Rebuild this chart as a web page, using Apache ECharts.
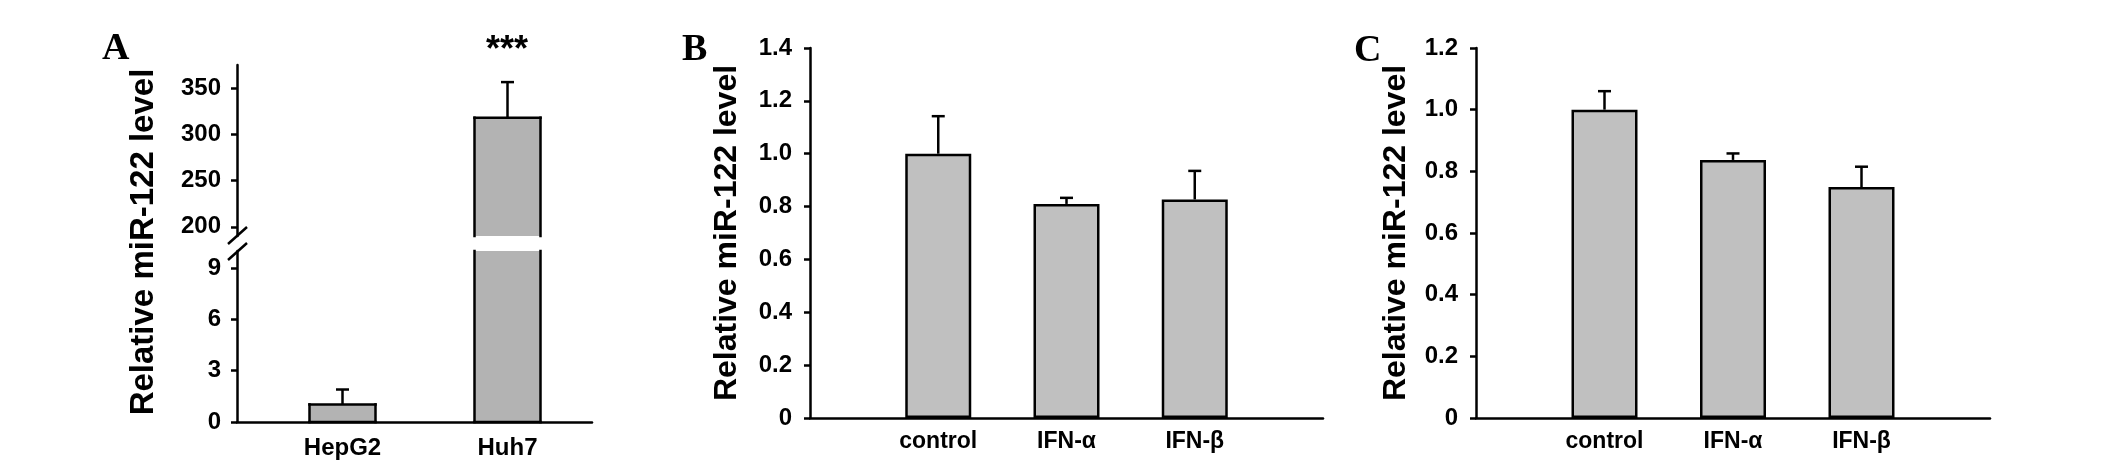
<!DOCTYPE html>
<html lang="en">
<head>
	<meta charset="UTF-8">
	<title>miR-122 levels</title>
	<style>
		html, body { margin: 0; padding: 0; background: #fff; }
		#main { width: 2126px; height: 468px; }
	</style>
</head>
<body>
	<div id="main"></div>
	<script src="https://cdn.jsdelivr.net/npm/echarts@6/dist/echarts.min.js"></script>
	<script>
		// panel A: cell lines (broken y axis)
		var catsA = ['HepG2', 'Huh7'];
		var meanA = [1.03, 318];
		var errA = [0.87, 38.5];
		var ticksAUpper = [200, 250, 300, 350];
		var ticksALower = [0, 3, 6, 9];

		// panels B and C: interferon treatment
		var catsB = ['control', 'IFN-α', 'IFN-β'];
		var meanB = [1.0, 0.81, 0.827];
		var errB = [0.142, 0.023, 0.108];
		var meanC = [1.0, 0.837, 0.749];
		var errC = [0.06, 0.021, 0.066];

		var yTitle = 'Relative miR-122 level';

		var SANS = '"Liberation Sans", Arial, sans-serif';
		var SERIF = '"Liberation Serif", "Times New Roman", serif';
		var LW = 2.5;

		var chart = echarts.init(document.getElementById('main'));

		// A upper segment range and lower segment range
		var upMin = 190, upMax = 375, lowMax = 10;

		function padded(arr) {
			return [''].concat(arr, ['']);
		}
		function paddedVals(arr) {
			return ['-'].concat(arr, ['-']);
		}
		function errData(means, errs, shift, keep) {
			var out = [];
			for (var i = 0; i < means.length; i++) {
				if (!keep || keep(means[i], errs[i])) out.push([i + shift, means[i], errs[i]]);
			}
			return out;
		}

		function renderErr(params, api) {
			var x = api.value(0), m = api.value(1), e = api.value(2);
			var p0 = api.coord([x, m]);
			var p1 = api.coord([x, m + e]);
			var st = { stroke: '#000', lineWidth: LW };
			return {
				type: 'group',
				children: [
					{ type: 'line', shape: { x1: p0[0], y1: p0[1], x2: p1[0], y2: p1[1] }, style: st },
					{ type: 'line', shape: { x1: p1[0] - 6.5, y1: p1[1], x2: p1[0] + 6.5, y2: p1[1] }, style: st }
				]
			};
		}

		// bars of panel A: cut at the axis break without an edge line there
		function renderBarA(params, api) {
			var x = api.value(0), m = api.value(1);
			var cs = params.coordSys;
			var w = 66;
			var c0 = api.coord([x, 0]), c1 = api.coord([x, m]);
			var top = Math.max(c1[1], cs.y), bot = Math.min(c0[1], cs.y + cs.height);
			if (top >= bot) return;
			var l = c0[0] - w / 2, r = c0[0] + w / 2;
			var st = { stroke: '#000', lineWidth: LW, lineCap: 'square' };
			var kids = [
				{ type: 'rect', shape: { x: l, y: top, width: w, height: bot - top }, style: { fill: '#b3b3b3' } },
				{ type: 'line', shape: { x1: l, y1: top, x2: l, y2: bot }, style: st },
				{ type: 'line', shape: { x1: r, y1: top, x2: r, y2: bot }, style: st }
			];
			if (c1[1] >= cs.y) kids.push({ type: 'line', shape: { x1: l, y1: top, x2: r, y2: top }, style: st });
			if (c0[1] <= cs.y + cs.height) kids.push({ type: 'line', shape: { x1: l, y1: bot, x2: r, y2: bot }, style: st });
			return { type: 'group', children: kids };
		}

		var yLabel = { color: '#000', fontSize: 24, fontWeight: 'bold', fontFamily: SANS, margin: 16 };
		var lineStyle = { lineStyle: { color: '#000', width: LW } };
		var tickStyle = { show: true, length: 6, lineStyle: { color: '#000', width: LW } };

		function barSeries(xi, data, color) {
			return {
				type: 'bar', xAxisIndex: xi, yAxisIndex: xi,
				data: data, barWidth: 66, clip: true,
				itemStyle: { color: color, borderColor: '#000', borderWidth: LW }
			};
		}
		function barASeries(xi, data) {
			return {
				type: 'custom', xAxisIndex: xi, yAxisIndex: xi, z: 2,
				data: data, renderItem: renderBarA
			};
		}
		function errSeries(xi, data) {
			return {
				type: 'custom', xAxisIndex: xi, yAxisIndex: xi, z: 3,
				data: data, renderItem: renderErr
			};
		}

		var fmt1 = function (v) { return v === 0 ? '0' : v.toFixed(1); };

		var option = {
			backgroundColor: '#fff',
			animation: false,
			grid: [
				{ left: 260, top: 65, width: 330, height: 171 },
				{ left: 260, top: 251, width: 330, height: 171 },
				{ left: 237, top: 251, width: 355, height: 171 },
				{ left: 810, top: 48, width: 513, height: 370 },
				{ left: 1476, top: 48, width: 514, height: 370 }
			],
			xAxis: [
				{ gridIndex: 0, type: 'category', data: catsA, show: false },
				{
					gridIndex: 1, type: 'category', data: catsA,
					axisLine: { show: false }, axisTick: { show: false },
					axisLabel: { color: '#000', fontSize: 24, fontWeight: 'bold', fontFamily: SANS, margin: 14 }
				},
				{
					gridIndex: 2, type: 'value', min: 0, max: 1,
					axisLine: lineStyle, axisTick: { show: false }, axisLabel: { show: false }, splitLine: { show: false }
				},
				{
					gridIndex: 3, type: 'category', data: padded(catsB), boundaryGap: false,
					axisLine: lineStyle, axisTick: { show: false },
					axisLabel: { color: '#000', fontSize: 23, fontWeight: 'bold', fontFamily: SANS, margin: 12 }
				},
				{
					gridIndex: 4, type: 'category', data: padded(catsB), boundaryGap: false,
					axisLine: lineStyle, axisTick: { show: false },
					axisLabel: { color: '#000', fontSize: 23, fontWeight: 'bold', fontFamily: SANS, margin: 12 }
				}
			],
			yAxis: [
				{
					gridIndex: 0, type: 'value', min: upMin, max: upMax, offset: 23,
					axisLine: { show: true, lineStyle: lineStyle.lineStyle },
					axisTick: { show: true, length: 6, lineStyle: tickStyle.lineStyle, customValues: ticksAUpper },
					axisLabel: Object.assign({ customValues: ticksAUpper }, yLabel),
					splitLine: { show: false }
				},
				{
					gridIndex: 1, type: 'value', min: 0, max: lowMax, offset: 23,
					axisLine: { show: true, lineStyle: lineStyle.lineStyle },
					axisTick: { show: true, length: 6, lineStyle: tickStyle.lineStyle, customValues: ticksALower },
					axisLabel: Object.assign({ customValues: ticksALower }, yLabel),
					splitLine: { show: false }
				},
				{ gridIndex: 2, type: 'value', show: false },
				{
					gridIndex: 3, type: 'value', min: 0, max: 1.4, interval: 0.2,
					axisLine: { show: true, lineStyle: lineStyle.lineStyle },
					axisTick: tickStyle,
					axisLabel: Object.assign({ formatter: fmt1 }, yLabel, { margin: 18 }),
					splitLine: { show: false },
					name: yTitle, nameLocation: 'middle', nameRotate: 90, nameGap: 67,
					nameTextStyle: { color: '#000', fontSize: 32, fontWeight: 'bold', fontFamily: SANS }
				},
				{
					gridIndex: 4, type: 'value', min: 0, max: 1.2, interval: 0.2,
					axisLine: { show: true, lineStyle: lineStyle.lineStyle },
					axisTick: tickStyle,
					axisLabel: Object.assign({ formatter: fmt1 }, yLabel, { margin: 18 }),
					splitLine: { show: false },
					name: yTitle, nameLocation: 'middle', nameRotate: 90, nameGap: 64,
					nameTextStyle: { color: '#000', fontSize: 32, fontWeight: 'bold', fontFamily: SANS }
				}
			],
			series: [
				barASeries(0, errData(meanA, errA, 0, function (m) { return m >= upMin; })),
				barASeries(1, errData(meanA, errA, 0)),
				errSeries(0, errData(meanA, errA, 0, function (m) { return m >= upMin; })),
				errSeries(1, errData(meanA, errA, 0, function (m, e) { return m + e <= lowMax; })),
				barSeries(3, paddedVals(meanB), '#c0c0c0'),
				errSeries(3, errData(meanB, errB, 1)),
				barSeries(4, paddedVals(meanC), '#c0c0c0'),
				errSeries(4, errData(meanC, errC, 1))
			],
			graphic: [
				// axis break marks on panel A
				{ type: 'line', shape: { x1: 228, y1: 244, x2: 247, y2: 227 }, style: { stroke: '#000', lineWidth: LW }, z: 10 },
				{ type: 'line', shape: { x1: 228, y1: 260, x2: 247, y2: 243 }, style: { stroke: '#000', lineWidth: LW }, z: 10 },
				{
					type: 'text', x: 144, y: 242, rotation: Math.PI / 2,
					style: { text: yTitle, font: 'bold 33px ' + SANS, fill: '#000', align: 'center', verticalAlign: 'middle' }
				},
				{
					type: 'text', x: 507, y: 33,
					style: { text: '***', font: 'bold 36px ' + SANS, fill: '#000', align: 'center', verticalAlign: 'top' }
				},
				{ type: 'text', x: 102, y: 30, style: { text: 'A', font: 'bold 38px ' + SERIF, fill: '#000' } },
				{ type: 'text', x: 682, y: 31, style: { text: 'B', font: 'bold 38px ' + SERIF, fill: '#000' } },
				{ type: 'text', x: 1354, y: 32, style: { text: 'C', font: 'bold 38px ' + SERIF, fill: '#000' } }
			]
		};

		chart.setOption(option);
	</script>
</body>
</html>
